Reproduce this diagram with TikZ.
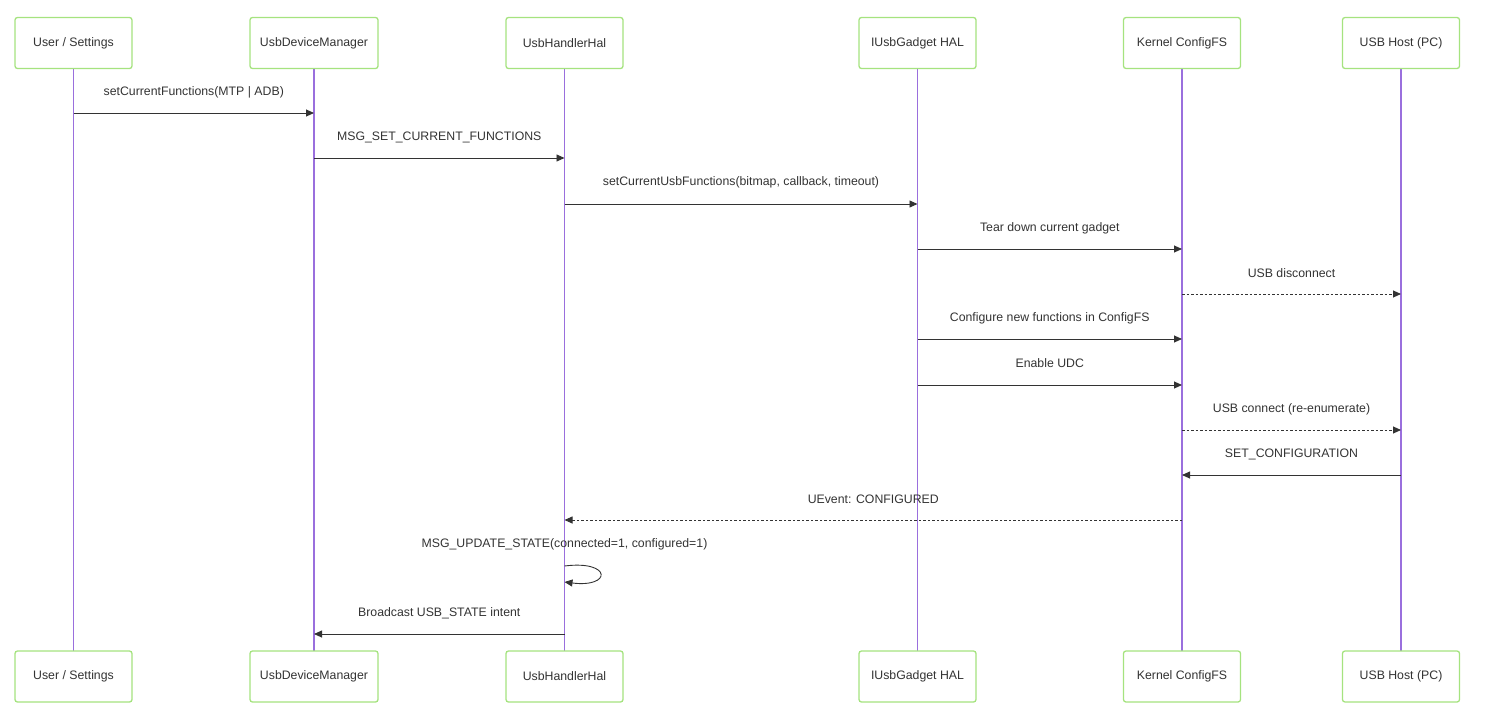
\documentclass[tikz,border=0pt]{standalone}
\usepackage{fontspec}
\setmainfont{Liberation Sans}
\usetikzlibrary{arrows.meta}
\definecolor{boxgreen}{HTML}{A5E37F}
\definecolor{lifeline}{HTML}{9A6FDD}
\definecolor{txt}{HTML}{333333}
\tikzset{
  actor/.style={draw=boxgreen, line width=1.3pt, rounded corners=2.5pt, fill=white,
    minimum width=117pt, minimum height=51pt, font=\fontsize{12.3}{14}\selectfont, text=txt, inner sep=0pt},
  life/.style={draw=lifeline, line width=1.4pt},
  msg/.style={draw=txt, line width=0.9pt, -{Triangle[length=8pt,width=7pt]}},
  ret/.style={msg, dash pattern=on 2.5pt off 2pt},
  lbl/.style={font=\fontsize{12.3}{14}\selectfont, text=txt, inner sep=0pt}
}
\begin{document}
\begin{tikzpicture}[x=1pt,y=-1pt]
\useasboundingbox (0,0) rectangle (1486,715);
% lifelines
\foreach \n/\x in {u/73.5, m/314, h/564.5, g/917.5, k/1182, p/1401}{
  \coordinate (\n t) at (\x,68);
  \coordinate (\n b) at (\x,651);
  \draw[life] (\n t) -- (\n b);
}
% actors
\node[actor] (ut) at (73.5,43) {User / Settings};
\node[actor, minimum width=128pt] (mt) at (314,43) {UsbDeviceManager};
\node[actor] (ht) at (564.5,43) {UsbHandlerHal};
\node[actor] (gt) at (917.5,43) {IUsbGadget HAL};
\node[actor] (kt) at (1182,43) {Kernel ConfigFS};
\node[actor] (pt) at (1401,43) {USB Host (PC)};
\node[actor] (ub) at (73.5,676.5) {User / Settings};
\node[actor, minimum width=128pt] (mb) at (314,676.5) {UsbDeviceManager};
\node[actor] (hb) at (564.5,676.5) {UsbHandlerHal};
\node[actor] (gb) at (917.5,676.5) {IUsbGadget HAL};
\node[actor] (kb) at (1182,676.5) {Kernel ConfigFS};
\node[actor] (pb) at (1401,676.5) {USB Host (PC)};
% message anchor points
\foreach \y/\i in {113/1,158/2,204/3,249/4,294/5,339/6,385/7,430/8,475/9,520/10,634/12}{
  \foreach \n/\x in {u/73.5, m/314, h/564.5, g/917.5, k/1182, p/1401}{
    \coordinate (\n\i) at (\x,\y);
  }
}
\draw[msg] (u1) -- (m1);
\node[lbl] (l1) at (193.75,92.5) {setCurrentFunctions(MTP | ADB)};
\draw[msg] (m2) -- (h2);
\node[lbl] (l2) at (439.25,137.5) {MSG\_SET\_CURRENT\_FUNCTIONS};
\draw[msg] (h3) -- (g3);
\node[lbl] (l3) at (741,182.5) {setCurrentUsbFunctions(bitmap, callback, timeout)};
\draw[msg] (g4) -- (k4);
\node[lbl] (l4) at (1049.75,228.5) {Tear down current gadget};
\draw[ret] (k5) -- (p5);
\node[lbl] (l5) at (1291.5,273.5) {USB disconnect};
\draw[msg] (g6) -- (k6);
\node[lbl] (l6) at (1049.75,318.5) {Configure new functions in ConfigFS};
\draw[msg] (g7) -- (k7);
\node[lbl] (l7) at (1049.75,363.5) {Enable UDC};
\draw[ret] (k8) -- (p8);
\node[lbl] (l8) at (1291.5,409.5) {USB connect (re-enumerate)};
\draw[msg] (p9) -- (k9);
\node[lbl] (l9) at (1291.5,454.5) {SET\_CONFIGURATION};
\draw[ret] (k10) -- (h10);
\node[lbl] (l10) at (873.25,499.5) {UEvent: CONFIGURED};
% self loop
\coordinate (s1) at (564.5,566);
\coordinate (s2) at (564.5,582);
\draw[msg] (s1) .. controls (612,560) and (612,588) .. (s2);
\node[lbl] (l11) at (564.5,544.5) {MSG\_UPDATE\_STATE(connected=1, configured=1)};
\draw[msg] (h12) -- (m12);
\node[lbl] (l12) at (439.25,613.5) {Broadcast USB\_STATE intent};
\end{tikzpicture}
\end{document}
